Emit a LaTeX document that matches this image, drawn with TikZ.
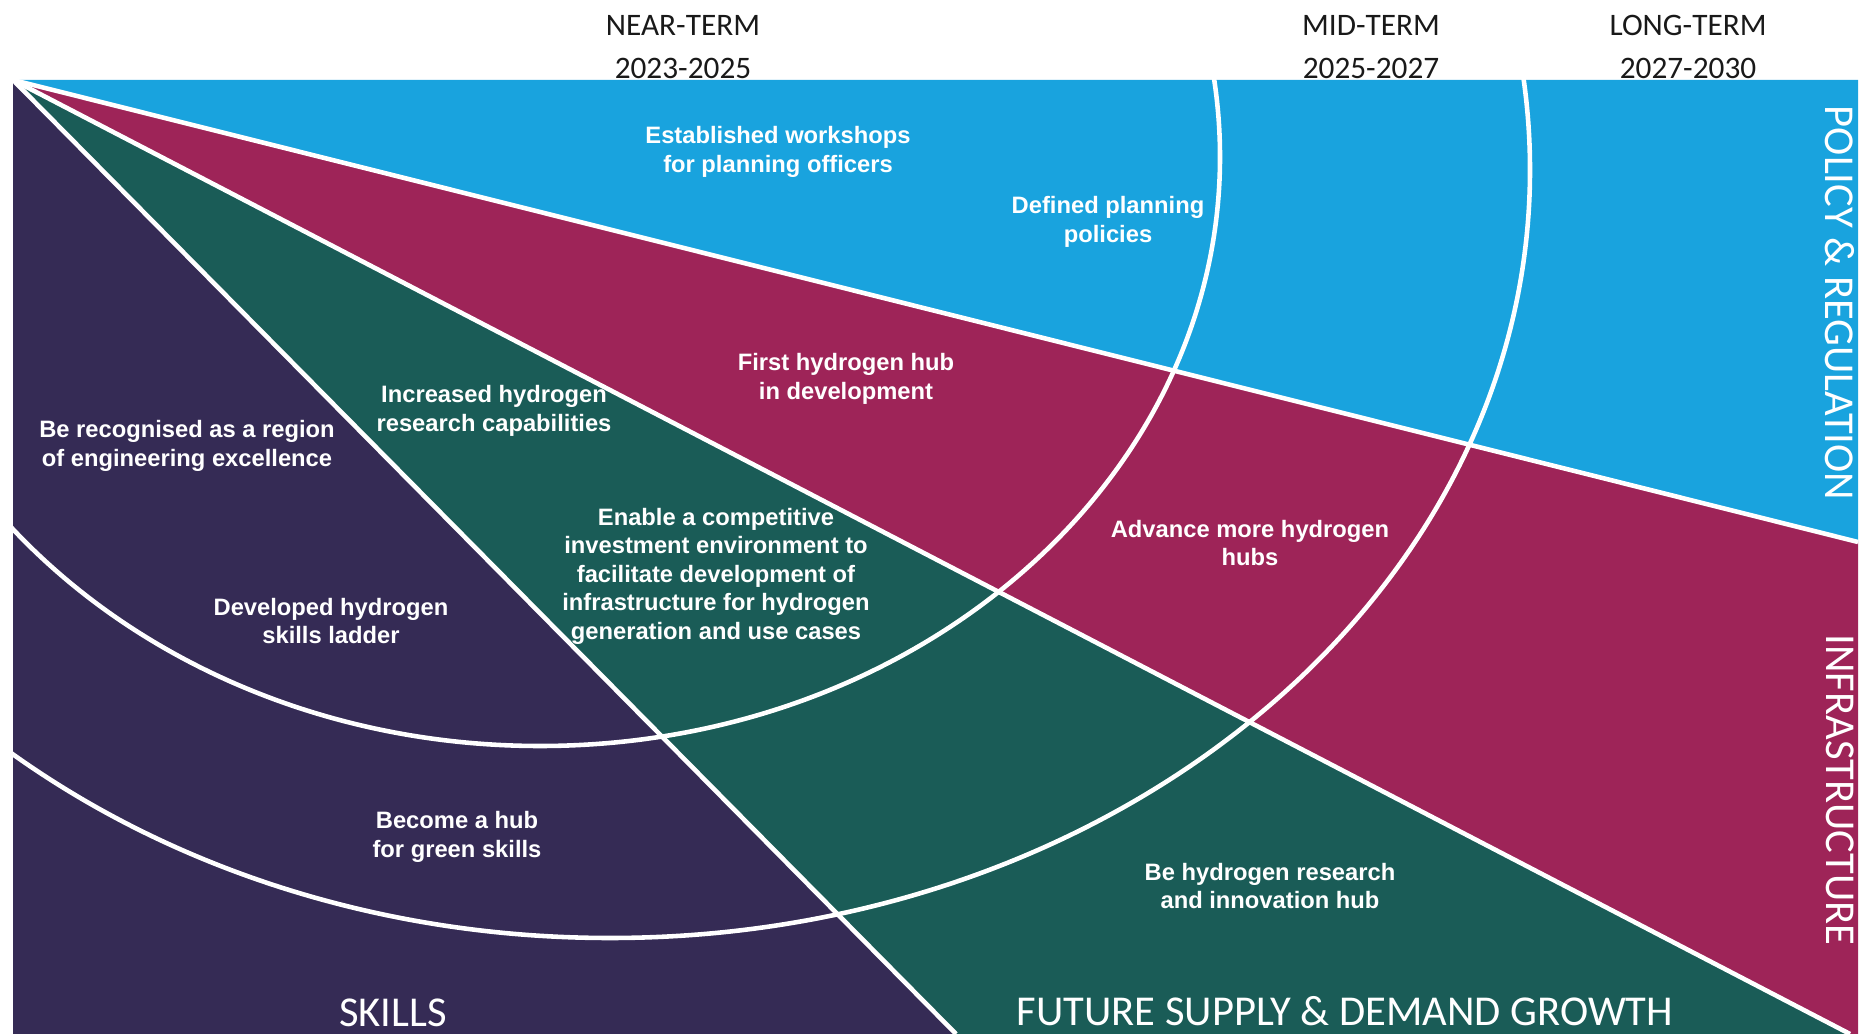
\documentclass[tikz,border=0pt]{standalone}
\usepackage{fontspec}
\setmainfont{Liberation Sans}
\newfontfamily\termfont{Carlito}
\definecolor{policyblue}{HTML}{19A3DE}
\definecolor{infrared}{HTML}{9E2458}
\definecolor{supplygreen}{HTML}{1A5C57}
\definecolor{skillpurple}{HTML}{352B55}

\begin{document}
\begin{tikzpicture}[x=0.01cm, y=-0.01cm,
    goal/.style={text=white, align=center, inner sep=0pt, font=\bfseries\fontsize{6.75}{8.1}\selectfont},
    term/.style={text=black!90, align=center, inner sep=0pt, font=\termfont\fontsize{8.9}{12.4}\selectfont},
    theme/.style={text=white, inner sep=0pt, font=\termfont\fontsize{12.1}{14}\selectfont},
    divider/.style={white, line width=1.3pt}]

    \useasboundingbox (0,0) rectangle (1863,1034);

    \coordinate (apex) at (13,80);
    \coordinate (topright) at (1858,80);
    \coordinate (policyend) at (1858,542);
    \coordinate (corner) at (1858,1034);
    \coordinate (infraend) at (1850,1034);
    \coordinate (supplyend) at (956,1034);
    \coordinate (bottomleft) at (13,1034);

    % bands
    \fill[policyblue] (apex) -- (topright) -- (policyend) -- cycle;
    \fill[infrared] (apex) -- (policyend) -- (corner) -- (infraend) -- cycle;
    \fill[supplygreen] (apex) -- (infraend) -- (supplyend) -- cycle;
    \fill[skillpurple] (apex) -- (supplyend) -- (bottomleft) -- cycle;

    \draw[divider] (apex) -- (policyend);
    \draw[divider] (apex) -- (infraend);
    \draw[divider] (apex) -- (supplyend);

    % time horizons
    \begin{scope}
        \clip (apex) rectangle (corner);
        \draw[divider] (540,157) ellipse [x radius=680, y radius=589];
        \draw[divider] (610,170) ellipse [x radius=920, y radius=768];
    \end{scope}

    \node[term] (near) at (683,47) {NEAR-TERM\\2023-2025};
    \node[term] (mid) at (1371,47) {MID-TERM\\2025-2027};
    \node[term] (long) at (1688,47) {LONG-TERM\\2027-2030};

    \node[theme, rotate=-90] (policy) at (1840,303) {POLICY \& REGULATION};
    \node[theme, rotate=-90] (infra) at (1840,790) {INFRASTRUCTURE};
    \node[theme, anchor=base] (skills) at (393,1026) {SKILLS};
    \node[theme, anchor=base] (supply) at (1345,1025) {FUTURE SUPPLY \& DEMAND GROWTH};

    \node[goal] (workshops) at (778,152) {Established workshops\\for planning officers};
    \node[goal] (policies) at (1108,222) {Defined planning\\policies};
    \node[goal] (firsthub) at (846,379) {First hydrogen hub\\in development};
    \node[goal] (research) at (494,411) {Increased hydrogen\\research capabilities};
    \node[goal] (region) at (187,446) {Be recognised as a region\\of engineering excellence};
    \node[goal] (invest) at (716,576) {Enable a competitive\\investment environment to\\facilitate development of\\infrastructure for hydrogen\\generation and use cases};
    \node[goal] (morehubs) at (1250,543) {Advance more hydrogen\\hubs};
    \node[goal] (ladder) at (331,621) {Developed hydrogen\\skills ladder};
    \node[goal] (greenhub) at (457,837) {Become a hub\\for green skills};
    \node[goal] (innovation) at (1270,886) {Be hydrogen research\\and innovation hub};

\end{tikzpicture}
\end{document}
